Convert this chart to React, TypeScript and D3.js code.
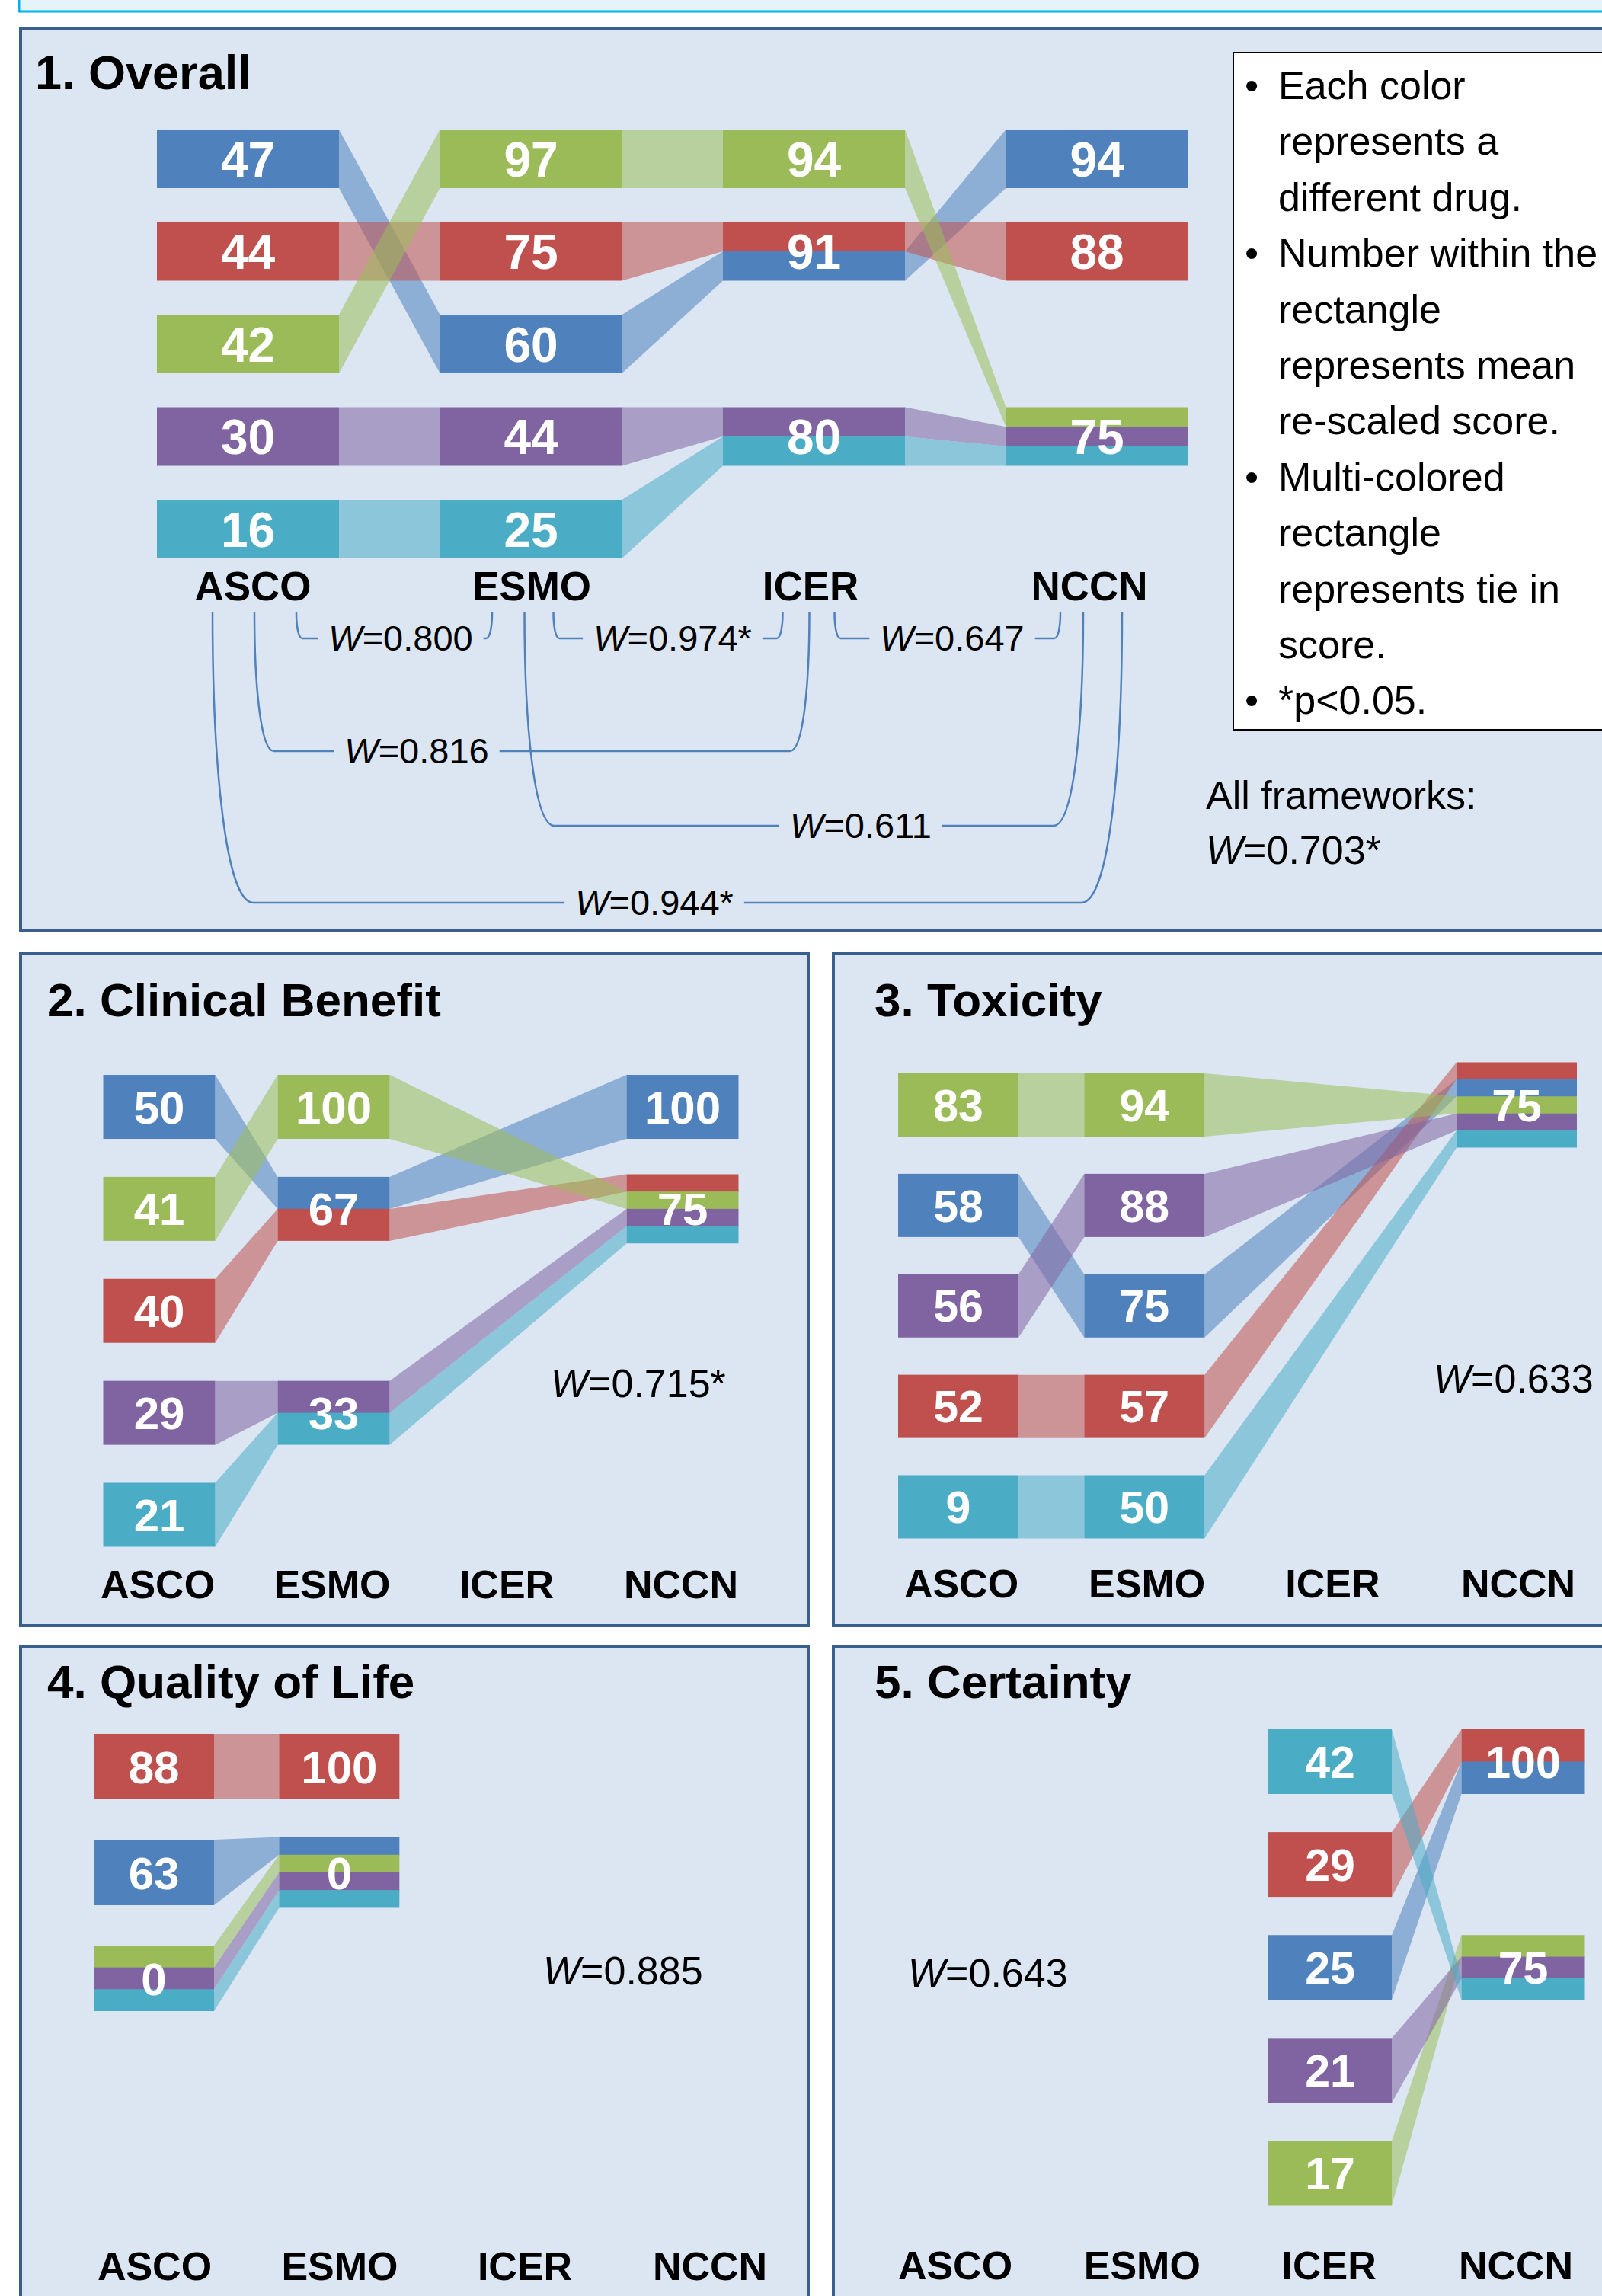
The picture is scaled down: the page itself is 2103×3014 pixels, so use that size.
import React, { useEffect, useRef } from "react";
import * as d3 from "d3";

// one drug per colour (drugs are not named in the figure)
const frameworks = ["ASCO", "ESMO", "ICER", "NCCN"];
const drugColors: Record<string, string> = {
  blue: "#4f81bd",
  red: "#c0504d",
  green: "#9bbb59",
  purple: "#8064a2",
  teal: "#4bacc6",
};

interface Box {
  fw: string;
  rank: number; // row slot within the column, 0 = top
  score: number;
  drugs: string[]; // more than one = tie
}

const overallBoxes: Box[] = [
  { fw: "ASCO", rank: 0, score: 47, drugs: ["blue"] },
  { fw: "ASCO", rank: 1, score: 44, drugs: ["red"] },
  { fw: "ASCO", rank: 2, score: 42, drugs: ["green"] },
  { fw: "ASCO", rank: 3, score: 30, drugs: ["purple"] },
  { fw: "ASCO", rank: 4, score: 16, drugs: ["teal"] },
  { fw: "ESMO", rank: 0, score: 97, drugs: ["green"] },
  { fw: "ESMO", rank: 1, score: 75, drugs: ["red"] },
  { fw: "ESMO", rank: 2, score: 60, drugs: ["blue"] },
  { fw: "ESMO", rank: 3, score: 44, drugs: ["purple"] },
  { fw: "ESMO", rank: 4, score: 25, drugs: ["teal"] },
  { fw: "ICER", rank: 0, score: 94, drugs: ["green"] },
  { fw: "ICER", rank: 1, score: 91, drugs: ["red", "blue"] },
  { fw: "ICER", rank: 3, score: 80, drugs: ["purple", "teal"] },
  { fw: "NCCN", rank: 0, score: 94, drugs: ["blue"] },
  { fw: "NCCN", rank: 1, score: 88, drugs: ["red"] },
  { fw: "NCCN", rank: 3, score: 75, drugs: ["green", "purple", "teal"] },
];

const clinicalBoxes: Box[] = [
  { fw: "ASCO", rank: 0, score: 50, drugs: ["blue"] },
  { fw: "ASCO", rank: 1, score: 41, drugs: ["green"] },
  { fw: "ASCO", rank: 2, score: 40, drugs: ["red"] },
  { fw: "ASCO", rank: 3, score: 29, drugs: ["purple"] },
  { fw: "ASCO", rank: 4, score: 21, drugs: ["teal"] },
  { fw: "ESMO", rank: 0, score: 100, drugs: ["green"] },
  { fw: "ESMO", rank: 1, score: 67, drugs: ["blue", "red"] },
  { fw: "ESMO", rank: 3, score: 33, drugs: ["purple", "teal"] },
  { fw: "NCCN", rank: 0, score: 100, drugs: ["blue"] },
  { fw: "NCCN", rank: 1, score: 75, drugs: ["red", "green", "purple", "teal"] },
];

const toxicityBoxes: Box[] = [
  { fw: "ASCO", rank: 0, score: 83, drugs: ["green"] },
  { fw: "ASCO", rank: 1, score: 58, drugs: ["blue"] },
  { fw: "ASCO", rank: 2, score: 56, drugs: ["purple"] },
  { fw: "ASCO", rank: 3, score: 52, drugs: ["red"] },
  { fw: "ASCO", rank: 4, score: 9, drugs: ["teal"] },
  { fw: "ESMO", rank: 0, score: 94, drugs: ["green"] },
  { fw: "ESMO", rank: 1, score: 88, drugs: ["purple"] },
  { fw: "ESMO", rank: 2, score: 75, drugs: ["blue"] },
  { fw: "ESMO", rank: 3, score: 57, drugs: ["red"] },
  { fw: "ESMO", rank: 4, score: 50, drugs: ["teal"] },
  { fw: "NCCN", rank: 0, score: 75, drugs: ["red", "blue", "green", "purple", "teal"] },
];

const qolBoxes: Box[] = [
  { fw: "ASCO", rank: 0, score: 88, drugs: ["red"] },
  { fw: "ASCO", rank: 1, score: 63, drugs: ["blue"] },
  { fw: "ASCO", rank: 2, score: 0, drugs: ["green", "purple", "teal"] },
  { fw: "ESMO", rank: 0, score: 100, drugs: ["red"] },
  { fw: "ESMO", rank: 1, score: 0, drugs: ["blue", "green", "purple", "teal"] },
];

const certaintyBoxes: Box[] = [
  { fw: "ICER", rank: 0, score: 42, drugs: ["teal"] },
  { fw: "ICER", rank: 1, score: 29, drugs: ["red"] },
  { fw: "ICER", rank: 2, score: 25, drugs: ["blue"] },
  { fw: "ICER", rank: 3, score: 21, drugs: ["purple"] },
  { fw: "ICER", rank: 4, score: 17, drugs: ["green"] },
  { fw: "NCCN", rank: 0, score: 100, drugs: ["red", "blue"] },
  { fw: "NCCN", rank: 2, score: 75, drugs: ["green", "purple", "teal"] },
];

// Kendall's W for each framework pair in the overall panel
const overallPairs = [
  { a: "ASCO", b: "ESMO", w: "0.800" },
  { a: "ESMO", b: "ICER", w: "0.974*" },
  { a: "ICER", b: "NCCN", w: "0.647" },
  { a: "ASCO", b: "ICER", w: "0.816" },
  { a: "ESMO", b: "NCCN", w: "0.611" },
  { a: "ASCO", b: "NCCN", w: "0.944*" },
];
const allFrameworksW = "0.703*";
const panelW = ["0.715*", "0.633", "0.885", "0.643"];

const legendLines = [
  { bullet: true, text: "Each color" },
  { bullet: false, text: "represents a" },
  { bullet: false, text: "different drug." },
  { bullet: true, text: "Number within the" },
  { bullet: false, text: "rectangle" },
  { bullet: false, text: "represents mean" },
  { bullet: false, text: "re-scaled score." },
  { bullet: true, text: "Multi-colored" },
  { bullet: false, text: "rectangle" },
  { bullet: false, text: "represents tie in" },
  { bullet: false, text: "score." },
  { bullet: true, text: "*p<0.05." },
];

// layout for each panel
const panels = [
  {
    title: "1. Overall", boxes: overallBoxes,
    frame: [27, 37, 2200, 1185], tx: 46, ty: 117, tSize: 63,
    cols: [325.5, 1440], boxW: 239, rows: [208.5, 694.5], boxH: 77, num: 64,
    labelCols: [332, 1430], labelY: 788, labelSize: 53,
    w: null as null | { x: number; y: number; v: string },
  },
  {
    title: "2. Clinical Benefit", boxes: clinicalBoxes,
    frame: [27, 1252, 1034, 882], tx: 62, ty: 1334, tSize: 62,
    cols: [209, 896], boxW: 147, rows: [1453, 1988.5], boxH: 84, num: 60,
    labelCols: [207, 894], labelY: 2098, labelSize: 52,
    w: { x: 723, y: 1834, v: panelW[0] },
  },
  {
    title: "3. Toxicity", boxes: toxicityBoxes,
    frame: [1094, 1252, 1100, 882], tx: 1148, ty: 1334, tSize: 62,
    cols: [1258, 1991], boxW: 158, rows: [1450.5, 1978], boxH: 83, num: 59,
    labelCols: [1262, 1993], labelY: 2097, labelSize: 52,
    w: { x: 1882, y: 1828, v: panelW[1] },
  },
  {
    title: "4. Quality of Life", boxes: qolBoxes,
    frame: [27, 2162, 1034, 900], tx: 62, ty: 2229, tSize: 62,
    cols: [202, 932], boxW: 158, rows: [2319, 2875], boxH: 86, num: 60,
    labelCols: [203, 932], labelY: 2993, labelSize: 52,
    w: { x: 713, y: 2605, v: panelW[2] },
  },
  {
    title: "5. Certainty", boxes: certaintyBoxes,
    frame: [1094, 2162, 1100, 900], tx: 1148, ty: 2229, tSize: 62,
    cols: [1239, 1999.5], boxW: 162, rows: [2312.5, 2853], boxH: 85, num: 59,
    labelCols: [1254, 1990], labelY: 2992, labelSize: 52,
    w: { x: 1192, y: 2608, v: panelW[3] },
  },
];

// bracket geometry for overall pairs: [dx at a, dx at b, bottom y, label centre x]
const bracketGeom = [
  [63.5, -51, 838, 526],
  [29.5, -41, 838, 883],
  [27, -48, 838, 1250],
  [8.5, -6, 986, 547],
  [-8.5, -18, 1084, 1130],
  [-46.5, 33, 1185, 859],
];

const FONT = "'Liberation Sans', Arial, Helvetica, sans-serif";

const App = () => {
  const svgRef = useRef<SVGSVGElement | null>(null);

  useEffect(() => {
    if (!svgRef.current) return;
    document.body.style.margin = "0";
    const svg = d3.select(svgRef.current);
    svg.selectAll("*").remove();

    // cut-off header box at the very top
    svg.append("rect")
      .attr("x", 25).attr("y", -20).attr("width", 2100).attr("height", 35)
      .attr("fill", "#e5f4fb").attr("stroke", "#00b0f0").attr("stroke-width", 3);

    const addW = (g: any, x: number, y: number, v: string, size: number, anchor = "start") => {
      const t = g.append("text")
        .attr("x", x).attr("y", y)
        .attr("text-anchor", anchor)
        .style("font-family", FONT).style("font-size", `${size}px`).attr("fill", "#000");
      t.append("tspan").style("font-style", "italic").text("W");
      t.append("tspan").text(`=${v}`);
      return t;
    };

    panels.forEach((p, pi) => {
      const g = svg.append("g");
      const [fx, fy, fw, fh] = p.frame;
      g.append("rect")
        .attr("x", fx).attr("y", fy).attr("width", fw).attr("height", fh)
        .attr("fill", "#dce6f2").attr("stroke", "#3a5f8c").attr("stroke-width", 4);

      g.append("text")
        .attr("x", p.tx).attr("y", p.ty)
        .style("font-family", FONT).style("font-size", `${p.tSize}px`).style("font-weight", "bold")
        .text(p.title);

      const x = d3.scalePoint<string>().domain(frameworks).range(p.cols as [number, number]);
      const xLabel = d3.scalePoint<string>().domain(frameworks).range(p.labelCols as [number, number]);
      const y = d3.scaleLinear().domain([0, 4]).range(p.rows);
      const hOf = (b: Box) => Math.max(p.boxH, b.drugs.length * p.boxH * 0.27);
      const topOf = (b: Box) => y(b.rank) - hOf(b) / 2;

      // ribbons between consecutive frameworks for each drug
      Object.keys(drugColors).forEach(drug => {
        const segs = frameworks
          .map(fwk => {
            const b = p.boxes.find(bb => bb.fw === fwk && bb.drugs.includes(drug));
            if (!b) return null;
            const sh = hOf(b) / b.drugs.length;
            const i = b.drugs.indexOf(drug);
            return { cx: x(fwk)!, y0: topOf(b) + i * sh, y1: topOf(b) + (i + 1) * sh };
          })
          .filter(Boolean) as { cx: number; y0: number; y1: number }[];
        for (let i = 0; i < segs.length - 1; i++) {
          const a = segs[i], b = segs[i + 1];
          const xa = a.cx + p.boxW / 2, xb = b.cx - p.boxW / 2;
          g.append("path")
            .attr("d", `M${xa},${a.y0}L${xb},${b.y0}L${xb},${b.y1}L${xa},${a.y1}Z`)
            .attr("fill", drugColors[drug]).attr("fill-opacity", 0.55);
        }
      });

      // score rectangles
      p.boxes.forEach(b => {
        const h = hOf(b), t = topOf(b), sh = h / b.drugs.length;
        b.drugs.forEach((d, i) => {
          g.append("rect")
            .attr("x", x(b.fw)! - p.boxW / 2).attr("y", t + i * sh)
            .attr("width", p.boxW).attr("height", sh + (i < b.drugs.length - 1 ? 0.6 : 0))
            .attr("fill", drugColors[d]);
        });
        g.append("text")
          .attr("x", x(b.fw)!).attr("y", t + h / 2 + p.num * 0.36)
          .attr("text-anchor", "middle").attr("fill", "#fff")
          .style("font-family", FONT).style("font-size", `${p.num}px`).style("font-weight", "bold")
          .text(b.score);
      });

      frameworks.forEach(fwk => {
        g.append("text")
          .attr("x", xLabel(fwk)!).attr("y", p.labelY)
          .attr("text-anchor", "middle")
          .style("font-family", FONT).style("font-size", `${p.labelSize}px`).style("font-weight", "bold")
          .text(fwk);
      });

      if (p.w) addW(g, p.w.x, p.w.y, p.w.v, 52);

      if (pi === 0) {
        // pairwise brackets
        const top = 804;
        overallPairs.forEach((pr, i) => {
          const [da, db, yb, tx] = bracketGeom[i];
          const xa = x(pr.a)! + da, xb = x(pr.b)! + db;
          const t = addW(g, tx, yb + 16, pr.w, 47, "middle");
          const tw = (t.node() as SVGTextElement).getComputedTextLength();
          const h = yb - top;
          const r = Math.max(8, h * 0.14);
          const gap = 14;
          const left = `M${xa},${top}C${xa},${top + h * 0.5} ${xa + r * 0.3},${yb} ${xa + r},${yb}L${tx - tw / 2 - gap},${yb}`;
          const right = `M${tx + tw / 2 + gap},${yb}L${xb - r},${yb}C${xb - r * 0.3},${yb} ${xb},${top + h * 0.5} ${xb},${top}`;
          [left, right].forEach(d =>
            g.append("path").attr("d", d).attr("fill", "none")
              .attr("stroke", "#4f81bd").attr("stroke-width", 2.5));
        });

        // legend box
        g.append("rect")
          .attr("x", 1619).attr("y", 69).attr("width", 600).attr("height", 889)
          .attr("fill", "#fff").attr("stroke", "#000").attr("stroke-width", 2);
        legendLines.forEach((l, i) => {
          const ly = 130 + i * 73.4;
          if (l.bullet) {
            g.append("text").attr("x", 1643).attr("y", ly).attr("text-anchor", "middle")
              .style("font-family", FONT).style("font-size", "52px").text("•");
          }
          g.append("text").attr("x", 1678).attr("y", ly)
            .style("font-family", FONT).style("font-size", "52px").text(l.text);
        });

        g.append("text").attr("x", 1583).attr("y", 1062)
          .style("font-family", FONT).style("font-size", "52px").text("All frameworks:");
        addW(g, 1583, 1134, allFrameworksW, 52);
      }
    });
  }, []);

  return (
    <svg
      ref={svgRef}
      width={2103}
      height={3014}
      style={{ position: "absolute", left: 0, top: 0, background: "#fff" }}
    />
  );
};

export default App;
